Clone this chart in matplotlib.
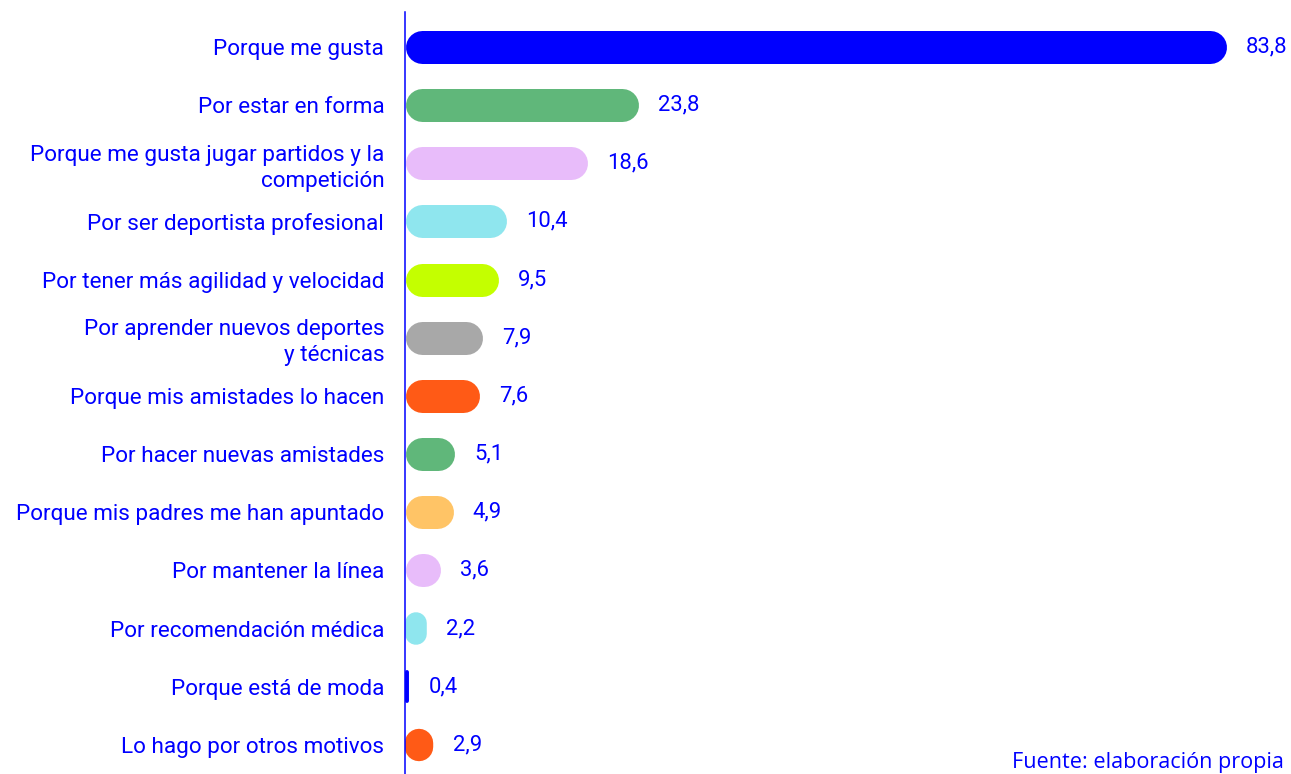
import matplotlib.pyplot as plt

# Data
labels = [
    'Porque me gusta',
    'Por estar en forma',
    'Porque me gusta jugar partidos y la\ncompetición',
    'Por ser deportista profesional',
    'Por tener más agilidad y velocidad',
    'Por aprender nuevos deportes\ny técnicas',
    'Porque mis amistades lo hacen',
    'Por hacer nuevas amistades',
    'Porque mis padres me han apuntado',
    'Por mantener la línea',
    'Por recomendación médica',
    'Porque está de moda',
    'Lo hago por otros motivos',
]
values = [83.8, 23.8, 18.6, 10.4, 9.5, 7.9, 7.6, 5.1, 4.9, 3.6, 2.2, 0.4, 2.9]
colors = ['#0000FF', '#60B77A', '#E8BCFA', '#8FE6EE', '#C4FF00', '#A8A8A8',
          '#FF5A16', '#60B77A', '#FFC466', '#E8BCFA', '#8FE6EE', '#0000FF', '#FF5A16']

blue = '#0000FF'
plt.rcParams['font.family'] = ['Roboto', 'DejaVu Sans']

fig = plt.figure(figsize=(12.91, 7.74), dpi=100)
ax = fig.add_axes([405 / 1291, 0, 882 / 1291, 1 - 12 / 774])

xmax = 90
ax.set_xlim(0, xmax)
ax.set_ylim(12.5, -0.6)

# pixel <-> data conversion, so the pill ends are true semicircles
bbox = ax.get_position()
px_w = bbox.width * fig.get_figwidth() * fig.dpi
px_h = bbox.height * fig.get_figheight() * fig.dpi
x_per_px = xmax / px_w
y_per_px = 13.1 / px_h
pt_per_px = 72 / fig.dpi

bar_px = 33
for i, (v, c) in enumerate(zip(values, colors)):
    v_px = v / x_per_px
    if v_px >= bar_px:
        r = bar_px / 2 * x_per_px
        ax.plot([r, v - r], [i, i], color=c, lw=bar_px * pt_per_px,
                solid_capstyle='round', zorder=2)
    else:
        half = (bar_px - v_px) / 2 * y_per_px
        ax.plot([v / 2, v / 2], [i - half, i + half], color=c,
                lw=v_px * pt_per_px, solid_capstyle='round', zorder=2)
    ax.annotate(f'{v:.1f}'.replace('.', ','), (v, i), xytext=(14, 0),
                textcoords='offset points', va='center', ha='left',
                fontsize=15.8, color=blue)

ax.set_yticks(range(len(labels)))
ax.set_yticklabels(labels, fontsize=16.2, color=blue, linespacing=1.3)
ax.tick_params(axis='y', length=0, pad=15)
ax.set_xticks([])

for s in ['top', 'right', 'bottom']:
    ax.spines[s].set_visible(False)
ax.spines['left'].set_color(blue)
ax.spines['left'].set_linewidth(1.1)
ax.spines['left'].set_zorder(3)

fig.text(1012 / 1291, 0.008, 'Fuente: elaboración propia', fontsize=15.6,
         color=blue, family=['Open Sans', 'DejaVu Sans'], ha='left', va='baseline')

fig.savefig('out.png', dpi=100)
